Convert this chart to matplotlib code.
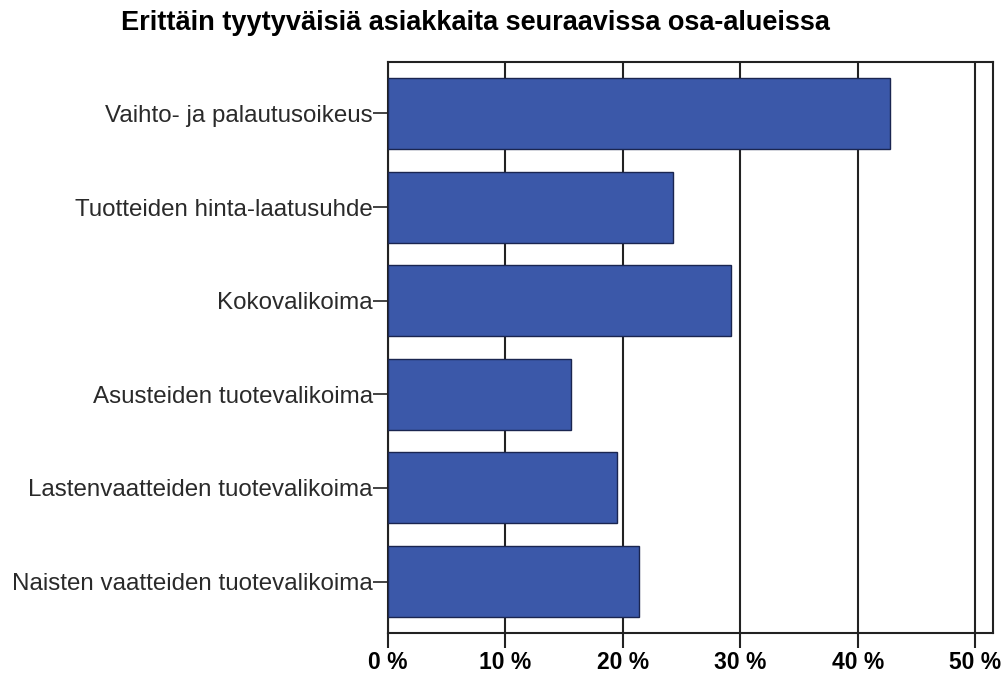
import matplotlib
matplotlib.use("Agg")
import matplotlib.pyplot as plt
from matplotlib.ticker import FuncFormatter

plt.rcParams['font.family'] = ['Liberation Sans', 'DejaVu Sans']

categories = ["Vaihto- ja palautusoikeus", "Tuotteiden hinta-laatusuhde", "Kokovalikoima",
              "Asusteiden tuotevalikoima", "Lastenvaatteiden tuotevalikoima",
              "Naisten vaatteiden tuotevalikoima"]
values = [42.7, 24.3, 29.2, 15.6, 19.5, 21.4]
xticks = [0, 10, 20, 30, 40, 50]
title = "Erittäin tyytyväisiä asiakkaita seuraavissa osa-alueissa"

fig = plt.figure(figsize=(10.08, 6.75), dpi=100)
ax = fig.add_axes([388/1008, 1-633/675, (993-388)/1008, (633-62)/675])

pos = list(range(len(categories)))
ax.barh(pos, values, height=0.76, color="#3B58A9", edgecolor="#1a2550", linewidth=1.0, zorder=3)
ax.set_ylim(len(categories) - 0.45, -0.55)
ax.set_xlim(0, 51.5)
ax.set_yticks(pos)
ax.set_yticklabels(categories, fontsize=17.4, color="#2a2a2a")
ax.set_xticks(xticks)
ax.xaxis.set_major_formatter(FuncFormatter(lambda v, p: f"{int(v)} %"))
for lab in ax.get_xticklabels():
    lab.set_fontweight("bold")
    lab.set_fontsize(16.5)
ax.tick_params(axis='x', length=11, width=1.5, color="#222222", pad=2)
ax.tick_params(axis='y', length=11, width=1.2, color="#222222", pad=0)
ax.grid(axis='x', color="#222222", linewidth=1.5, zorder=1)
ax.set_axisbelow(True)
for s in ax.spines.values():
    s.set_color("#222222")
    s.set_linewidth(1.5)

fig.text(475/1008, 1-23/675, title, ha='center', va='center', fontsize=19.5, fontweight='bold')

fig.savefig("out.png", dpi=100, facecolor="white")
